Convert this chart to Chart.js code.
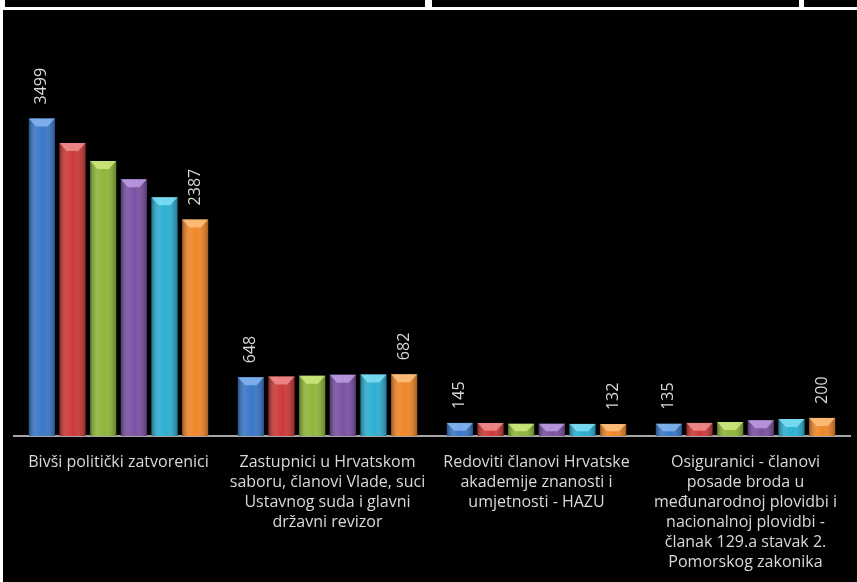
<html>
  <head>
    <title>korisnici povlaštenih mirovina</title>
    <style>
      body {
        margin: 0;
        background: #fff;
        width: 857px;
        height: 582px;
        overflow: hidden;
        position: relative;
      }
      .strip {
        position: absolute;
        top: 0;
        height: 7px;
        background: #000;
      }
      #wrap {
        position: absolute;
        left: 3px;
        top: 10px;
        width: 854px;
        height: 572px;
        background: #000;
        overflow: hidden;
      }
      #inner {
        position: relative;
        width: 854px;
        height: 579px;
      }
    </style>
    <script src="https://cdn.jsdelivr.net/npm/chart.js@4/dist/chart.umd.min.js"></script>
  </head>
  <body>
    <div class="strip" style="left: 5px; width: 420px"></div>
    <div class="strip" style="left: 432px; width: 367px"></div>
    <div class="strip" style="left: 804px; width: 53px"></div>
    <div id="wrap"><div id="inner"><canvas id="canvas"></canvas></div></div>
    <script>
      const categories = [
        ['Bivši politički zatvorenici'],
        ['Zastupnici u Hrvatskom', 'saboru, članovi Vlade, suci', 'Ustavnog suda i glavni', 'državni revizor'],
        ['Redoviti članovi Hrvatske', 'akademije znanosti i', 'umjetnosti - HAZU'],
        ['Osiguranici - članovi', 'posade broda u', 'međunarodnoj plovidbi i', 'nacionalnoj plovidbi -', 'članak 129.a stavak 2.', 'Pomorskog zakonika'],
      ];
      const series1 = [3499, 648, 145, 135];
      const series2 = [3230, 655, 144, 145];
      const series3 = [3030, 665, 135, 155];
      const series4 = [2830, 675, 135, 175];
      const series5 = [2630, 678, 134, 188];
      const series6 = [2387, 682, 132, 200];
      const colors = ['#3a78c8', '#cd3a3a', '#8fb83a', '#7b52a3', '#2eafd2', '#f0872a'];
      const lightColors = ['#8fbdf5', '#f59a9a', '#d6f08a', '#c7a6ee', '#8ae6fa', '#ffc98a'];
      const labelled = [0, 5]; // only first and last series carry value labels

      const font = "'Open Sans', sans-serif";

      // gives the bars a rounded, bevelled look
      const bevel = {
        id: 'bevel',
        afterDatasetsDraw(chart) {
          const ctx = chart.ctx;
          chart.data.datasets.forEach((ds, i) => {
            chart.getDatasetMeta(i).data.forEach((bar) => {
              const w = bar.width;
              const l = bar.x - w / 2;
              const top = bar.y;
              const h = bar.base - bar.y;
              ctx.save();
              const g = ctx.createLinearGradient(l, 0, l + w, 0);
              g.addColorStop(0, 'rgba(0,0,0,0.35)');
              g.addColorStop(0.3, 'rgba(255,255,255,0.08)');
              g.addColorStop(0.55, 'rgba(255,255,255,0)');
              g.addColorStop(1, 'rgba(0,0,0,0.3)');
              ctx.fillStyle = g;
              ctx.fillRect(l, top, w, h);
              const bh = Math.min(8, h * 0.6);
              ctx.beginPath();
              ctx.moveTo(l, top);
              ctx.lineTo(l + w, top);
              ctx.lineTo(l + w * 0.72, top + bh);
              ctx.lineTo(l + w * 0.28, top + bh);
              ctx.closePath();
              ctx.globalAlpha = 0.75;
              ctx.fillStyle = lightColors[i];
              ctx.fill();
              ctx.restore();
            });
          });
        },
      };

      const valueLabels = {
        id: 'valueLabels',
        afterDatasetsDraw(chart) {
          const ctx = chart.ctx;
          labelled.forEach((i) => {
            const ds = chart.data.datasets[i];
            chart.getDatasetMeta(i).data.forEach((bar, j) => {
              ctx.save();
              ctx.translate(bar.x, bar.y - 14);
              ctx.rotate(-Math.PI / 2);
              ctx.font = '16px ' + font;
              ctx.fillStyle = '#d9d9d9';
              ctx.textAlign = 'left';
              ctx.textBaseline = 'middle';
              ctx.fillText(ds.data[j], 0, 0);
              ctx.restore();
            });
          });
        },
      };

      const allSeries = [series1, series2, series3, series4, series5, series6];

      new Chart(document.getElementById('canvas'), {
        type: 'bar',
        data: {
          labels: categories,
          datasets: allSeries.map((d, i) => ({
            label: 'Serija ' + (i + 1),
            data: d,
            backgroundColor: colors[i],
            categoryPercentage: 0.88,
            barPercentage: 0.85,
          })),
        },
        options: {
          responsive: true,
          maintainAspectRatio: false,
          animation: false,
          layout: { padding: { left: 11, right: 7, top: 63, bottom: 0 } },
          plugins: {
            legend: { display: false },
            tooltip: { enabled: false },
          },
          scales: {
            x: {
              grid: { display: false, drawTicks: false },
              border: { display: true, color: '#a6a6a6', width: 2 },
              ticks: {
                color: '#d9d9d9',
                padding: 16,
                maxRotation: 0,
                autoSkip: false,
                font: { family: font, size: 16, lineHeight: 1.26 },
              },
            },
            y: {
              display: false,
              min: 0,
              max: 4000,
            },
          },
        },
        plugins: [bevel, valueLabels],
      });
    </script>
  </body>
</html>
